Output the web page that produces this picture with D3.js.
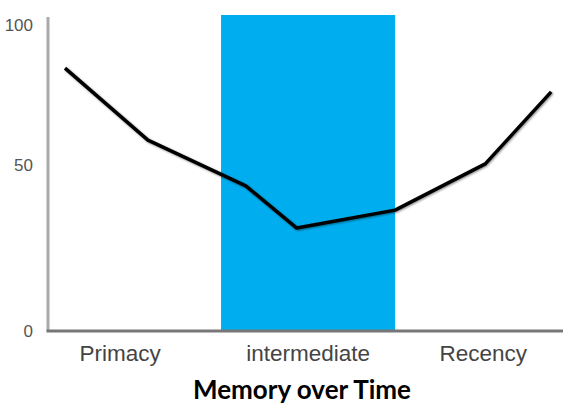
<!DOCTYPE html>
<html>
<head>
<meta charset="utf-8">
<script src="https://cdn.jsdelivr.net/npm/d3@7"></script>
<style>
  body { margin: 0; background: #fff; }
  svg { display: block; }
</style>
</head>
<body>
<svg id="chart" width="563" height="406"></svg>
<script>
// Serial position curve: recall across time in the list
const timePoints = [3.3, 19.4, 38.4, 48.3, 67.4, 84.9, 97.7];
const recall = [84.6, 58.9, 43.7, 31.0, 36.4, 50.4, 76.1];
const phaseLabels = ["Primacy", "intermediate", "Recency"];
const phaseCenters = [14, 50.5, 84.5];
const intermediateSpan = [33.6, 67.4];
const yTicks = [0, 50, 100];
const title = "Memory over Time";

const svg = d3.select("#chart");

const x = d3.scaleLinear().domain([0, 100]).range([48, 563]);
const y = d3.scaleLinear().domain([0, 50, 100]).range([331, 165, 25]);
const plotTop = 15;

const defs = svg.append("defs");
const f = defs.append("filter").attr("id", "soft").attr("x", "-10%").attr("y", "-10%").attr("width", "120%").attr("height", "130%");
f.append("feGaussianBlur").attr("in", "SourceAlpha").attr("stdDeviation", 1.2).attr("result", "b");
f.append("feOffset").attr("in", "b").attr("dx", 0.5).attr("dy", 1).attr("result", "o");
f.append("feComponentTransfer").attr("in", "o").attr("result", "s")
  .append("feFuncA").attr("type", "linear").attr("slope", 0.45);
const m = f.append("feMerge");
m.append("feMergeNode").attr("in", "s");
m.append("feMergeNode").attr("in", "SourceGraphic");

// Intermediate phase band
svg.append("rect")
  .attr("x", x(intermediateSpan[0]))
  .attr("y", plotTop)
  .attr("width", x(intermediateSpan[1]) - x(intermediateSpan[0]))
  .attr("height", y(0) - plotTop)
  .attr("fill", "#00aeef");

// Axes
svg.append("line")
  .attr("x1", x(0)).attr("x2", x(0))
  .attr("y1", plotTop + 2).attr("y2", y(0))
  .attr("stroke", "#aaa").attr("stroke-width", 3);
svg.append("line")
  .attr("x1", x(0) - 1.5).attr("x2", x(100))
  .attr("y1", y(0)).attr("y2", y(0))
  .attr("stroke", "#777").attr("stroke-width", 3);

// Y tick labels
svg.selectAll("text.ytick")
  .data(yTicks)
  .join("text")
  .attr("class", "ytick")
  .attr("x", 33)
  .attr("y", d => y(d))
  .attr("dy", "0.36em")
  .attr("text-anchor", "end")
  .attr("font-family", "Liberation Sans, Arial, sans-serif")
  .attr("font-size", 17)
  .attr("fill", "#555")
  .text(d => d);

// Phase labels
svg.selectAll("text.phase")
  .data(phaseLabels)
  .join("text")
  .attr("class", "phase")
  .attr("x", (d, i) => x(phaseCenters[i]))
  .attr("y", 361)
  .attr("text-anchor", "middle")
  .attr("font-family", "Liberation Sans, Arial, sans-serif")
  .attr("font-size", 22.5)
  .attr("fill", "#444")
  .text(d => d);

// Recall curve
const line = d3.line().x(d => x(d[0])).y(d => y(d[1]));
svg.append("path")
  .datum(timePoints.map((t, i) => [t, recall[i]]))
  .attr("d", line)
  .attr("fill", "none")
  .attr("stroke", "#000")
  .attr("stroke-width", 3.5)
  .attr("stroke-linejoin", "round")
  .attr("filter", "url(#soft)");

// Title
svg.append("text")
  .attr("x", 302)
  .attr("y", 399)
  .attr("text-anchor", "middle")
  .attr("font-family", "Lato, sans-serif")
  .attr("font-weight", "bold")
  .attr("font-size", 26)
  .attr("fill", "#000")
  .text(title);
</script>
</body>
</html>
